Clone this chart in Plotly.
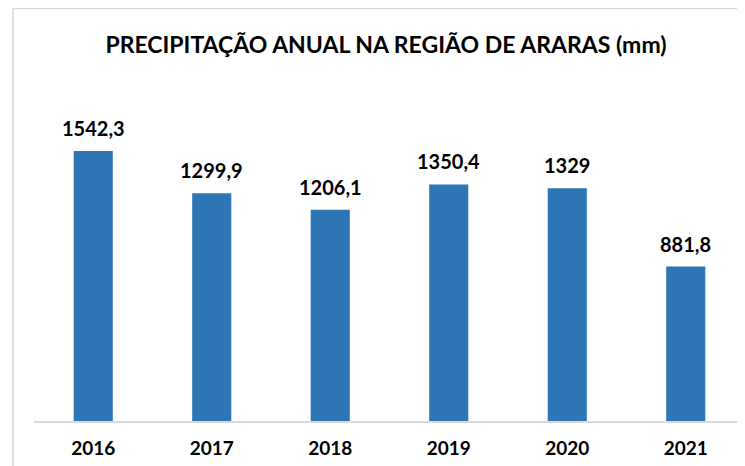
import plotly.graph_objects as go

years = ["2016", "2017", "2018", "2019", "2020", "2021"]
precip = [1542.3, 1299.9, 1206.1, 1350.4, 1329, 881.8]
labels = ["1542,3", "1299,9", "1206,1", "1350,4", "1329", "881,8"]

FONT = "Lato"
fig = go.Figure()
fig.add_trace(go.Bar(x=years, y=precip, marker=dict(color="#2E75B6", line=dict(width=0)),
                     hoverinfo="skip"))
for i, (y, t) in enumerate(zip(precip, labels)):
    fig.add_annotation(x=i, y=y, text=t, showarrow=False, yanchor="bottom", yshift=9,
                       font=dict(family=FONT, size=20, color="#000000", weight="bold"))

# page is offset by the browser's 8px body margin; compensate in the margins
fig.update_layout(
    width=745, height=466,
    margin=dict(l=26, r=8, t=72, b=53),
    paper_bgcolor="white", plot_bgcolor="white",
    bargap=0.67,
    showlegend=False,
    title=dict(text="<b>PRECIPITAÇÃO ANUAL NA REGIÃO DE ARARAS (mm)</b>", x=378/745, xanchor="center",
               y=1 - 37/466, yanchor="middle",
               font=dict(family=FONT, size=23, color="#000000")),
    xaxis=dict(type="category", range=[-0.5, len(years) - 0.5], showline=True, linecolor="#d9d9d9",
               linewidth=2, ticks="", showgrid=False, ticklabelstandoff=9,
               tickfont=dict(family=FONT, size=19, color="#000000", weight="bold")),
    yaxis=dict(visible=False, range=[0, 1947]),
    shapes=[dict(type="rect", xref="paper", yref="paper",
                 x0=(5 - 26) / 711, x1=(740 - 26) / 711,
                 y0=-(53 + 20) / 341, y1=(413 - 0.5) / 341,
                 line=dict(color="#d9d9d9", width=1.5), layer="below")],
)
fig.write_html("out.html")
